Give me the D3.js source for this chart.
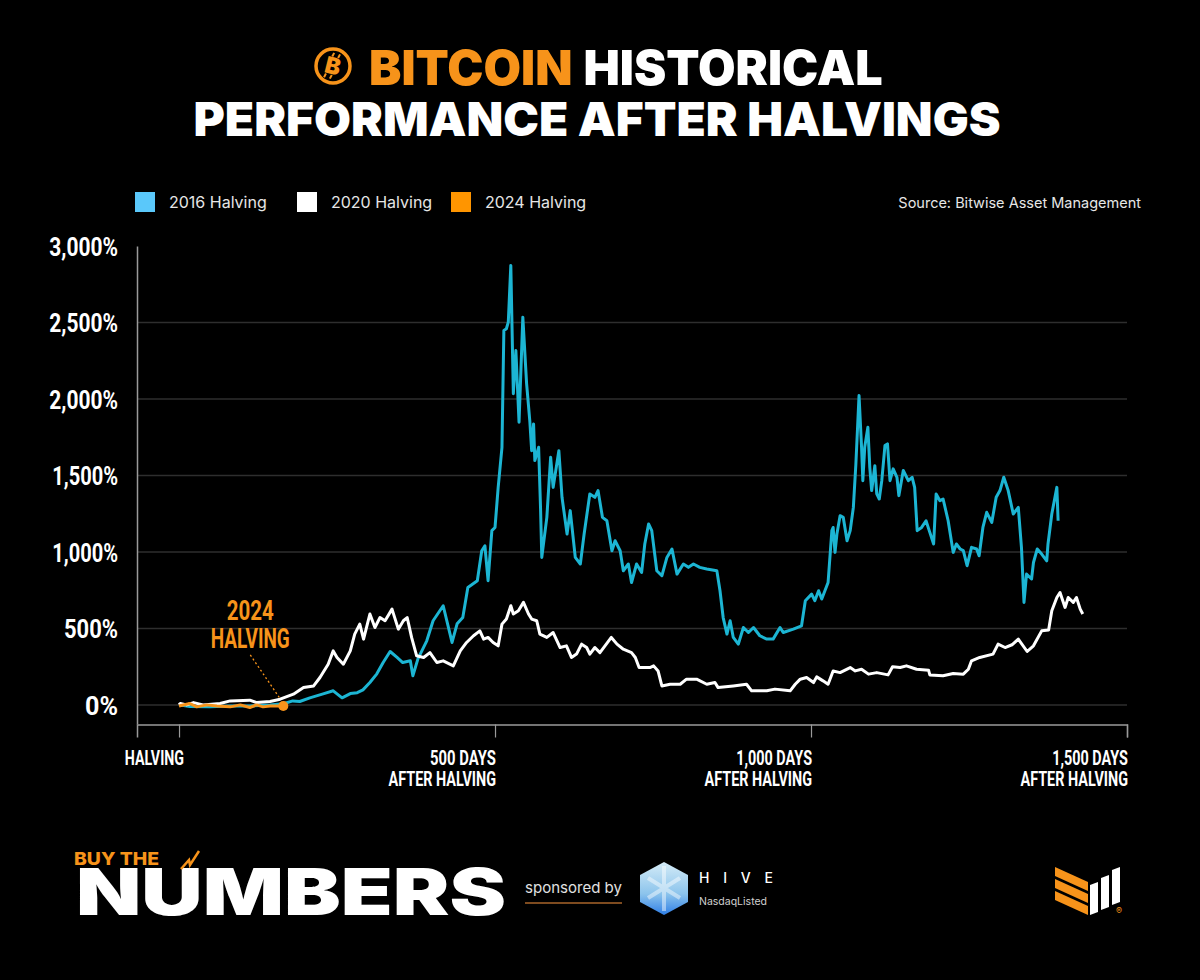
<!DOCTYPE html>
<html>
<head>
<meta charset="utf-8">
<script src="https://cdn.jsdelivr.net/npm/d3@7"></script>
<style>
  html, body { margin: 0; padding: 0; background: #000; }
  svg { display: block; }
</style>
</head>
<body>
<div id="chart"></div>
<script>
// [day after halving, % change]
const halving2016 = [[0,0],[17,-10],[49,-13],[81,-7],[112,-7],[144,0],[165,7],[180,26],[191,22],[207,46],[228,72],[244,92],[258,46],[271,74],[282,80],[291,98],[302,146],[313,203],[323,277],[334,349],[345,310],[354,277],[366,288],[370,190],[378,301],[392,419],[402,550],[418,648],[432,408],[440,530],[449,571],[457,768],[472,812],[479,1008],[484,1040],[489,812],[495,1139],[500,1160],[505,1422],[511,1684],[514,2448],[518,2459],[521,2502],[525,2873],[529,2034],[533,2317],[538,1848],[544,2535],[550,2099],[555,1859],[558,1662],[561,1837],[563,1597],[569,1684],[572,1291],[574,964],[582,1226],[588,1619],[592,1422],[601,1662],[606,1357],[614,1117],[619,1270],[627,964],[635,921],[641,1117],[650,1379],[658,1357],[663,1401],[670,1226],[677,1204],[685,1008],[690,1073],[698,1008],[703,877],[711,921],[716,800],[724,921],[732,866],[737,1052],[743,1183],[748,1139],[756,877],[764,844],[772,964],[780,1019],[788,855],[798,921],[806,899],[814,921],[824,899],[835,888],[851,877],[856,746],[861,571],[867,463],[872,550],[877,441],[885,397],[893,506],[901,473],[909,506],[919,452],[930,430],[940,430],[951,506],[956,473],[972,495],[985,517],[991,681],[1001,724],[1006,681],[1012,746],[1017,692],[1027,800],[1033,1139],[1035,1160],[1038,997],[1041,1117],[1046,1237],[1051,1226],[1057,1073],[1062,1139],[1067,1291],[1071,1575],[1076,2022],[1080,1684],[1082,1466],[1085,1684],[1090,1815],[1093,1553],[1096,1401],[1101,1564],[1104,1379],[1108,1346],[1112,1466],[1117,1695],[1121,1706],[1125,1466],[1130,1543],[1136,1488],[1139,1368],[1146,1532],[1154,1466],[1160,1488],[1164,1422],[1168,1139],[1175,1160],[1182,1204],[1188,1128],[1194,1052],[1198,1379],[1204,1335],[1209,1346],[1217,1204],[1225,997],[1230,1052],[1236,1019],[1241,1008],[1247,910],[1254,1030],[1262,1019],[1266,975],[1272,1160],[1278,1259],[1286,1193],[1293,1357],[1299,1401],[1305,1488],[1312,1401],[1320,1248],[1328,1291],[1333,1030],[1337,670],[1341,855],[1349,823],[1352,931],[1358,1019],[1365,986],[1373,942],[1375,1052],[1381,1248],[1389,1422],[1391,1204]];

const halving2020 = [[0,0],[2,9],[12,0],[23,15],[38,0],[65,9],[81,26],[112,31],[123,15],[144,22],[160,37],[181,70],[197,113],[213,124],[223,179],[236,266],[244,353],[250,310],[260,266],[271,353],[278,463],[286,528],[292,430],[302,594],[310,506],[318,571],[326,550],[337,626],[347,495],[355,550],[361,571],[368,441],[376,321],[387,310],[397,342],[408,277],[418,288],[434,255],[445,353],[455,408],[466,452],[476,484],[482,430],[489,441],[497,408],[505,386],[511,528],[518,561],[525,648],[529,594],[537,615],[545,670],[553,594],[558,561],[566,550],[571,463],[582,441],[592,473],[603,375],[613,386],[621,310],[629,332],[637,397],[645,375],[650,332],[658,375],[666,342],[674,386],[684,441],[693,397],[703,364],[716,342],[722,310],[728,244],[745,244],[751,255],[758,222],[764,124],[777,135],[793,135],[803,168],[819,168],[835,135],[848,146],[853,113],[877,124],[898,135],[906,92],[930,92],[943,103],[967,92],[975,135],[983,168],[993,179],[1004,146],[1009,183],[1019,157],[1027,135],[1035,222],[1046,211],[1062,244],[1070,222],[1080,233],[1091,201],[1104,211],[1122,196],[1129,249],[1141,244],[1151,255],[1167,233],[1186,227],[1188,196],[1209,190],[1225,205],[1241,201],[1249,233],[1254,288],[1267,310],[1288,332],[1296,397],[1307,375],[1318,393],[1328,430],[1342,349],[1352,386],[1365,484],[1376,489],[1381,615],[1389,702],[1394,735],[1402,637],[1407,702],[1415,670],[1420,702],[1426,626],[1430,594]];

const halving2024 = [[0,-7],[17,9],[28,-13],[44,0],[60,-7],[81,-13],[97,0],[112,-17],[123,0],[133,-13],[144,-7],[160,-7],[165,-7]];

const yTicks = [0, 500, 1000, 1500, 2000, 2500, 3000];
const xTicks = [0, 500, 1000, 1500];
const xTickLabels = [['HALVING'], ['500 DAYS', 'AFTER HALVING'], ['1,000 DAYS', 'AFTER HALVING'], ['1,500 DAYS', 'AFTER HALVING']];
const seriesNames = ['2016 Halving', '2020 Halving', '2024 Halving'];
const legendColors = ['#5ac8fa', '#ffffff', '#ff9500'];
const lineColors = ['#1cb5d3', '#ffffff', '#f7931a'];

const width = 1200, height = 980;
const orange = '#f7931a';
const narrow = "Roboto, 'Liberation Sans', sans-serif";
const heavy = "Inter, 'Open Sans', sans-serif";

// rough width of a tall condensed (Bebas-like) face, used to squeeze Roboto
function condensedWidth(s, size) {
    let w = 0;
    for (const c of s) {
        if (c === ' ') w += 0.2;
        else if (c === ',') w += 0.17;
        else if (c === '%') w += 0.9;
        else if (c === 'I' || c === '1') w += 0.3;
        else w += 0.42;
    }
    return w * size;
}

function narrowText(sel, s, size) {
    return sel.append('text')
        .attr('font-family', narrow)
        .attr('font-weight', 700)
        .attr('font-size', size)
        .attr('textLength', condensedWidth(s, size))
        .attr('lengthAdjust', 'spacingAndGlyphs')
        .text(s);
}

const svg = d3.select('#chart')
    .append('svg')
    .attr('width', width)
    .attr('height', height);

svg.append('rect').attr('width', width).attr('height', height).attr('fill', '#000');

// title
const icon = svg.append('g').attr('transform', 'translate(333,66)');
icon.append('circle').attr('r', 17).attr('fill', 'none').attr('stroke', orange).attr('stroke-width', 3.5);
icon.append('text')
    .attr('text-anchor', 'middle')
    .attr('y', 8)
    .attr('transform', 'rotate(14)')
    .attr('font-family', heavy)
    .attr('font-weight', 900)
    .attr('font-size', 23)
    .attr('fill', orange)
    .text('B');
[-4, 2].forEach(dx => {
    icon.append('line').attr('x1', dx + 2).attr('x2', dx + 1).attr('y1', -13).attr('y2', -9)
        .attr('stroke', orange).attr('stroke-width', 2).attr('transform', 'rotate(14)');
    icon.append('line').attr('x1', dx - 1).attr('x2', dx - 2).attr('y1', 9).attr('y2', 13)
        .attr('stroke', orange).attr('stroke-width', 2).attr('transform', 'rotate(14)');
});

const t1 = svg.append('text')
    .attr('x', 369).attr('y', 85)
    .attr('font-family', heavy).attr('font-weight', 900).attr('font-size', 48.5);
t1.append('tspan').attr('fill', orange).text('BITCOIN');
t1.append('tspan').attr('fill', '#fff').attr('dx', 11).text('HISTORICAL');

svg.append('text')
    .attr('x', 597).attr('y', 136)
    .attr('text-anchor', 'middle')
    .attr('font-family', heavy).attr('font-weight', 900).attr('font-size', 47)
    .attr('fill', '#fff')
    .attr('textLength', 807).attr('lengthAdjust', 'spacingAndGlyphs')
    .text('PERFORMANCE AFTER HALVINGS');

// legend
const legendX = [135, 297, 451];
seriesNames.forEach((name, i) => {
    svg.append('rect')
        .attr('x', legendX[i]).attr('y', 192)
        .attr('width', 20).attr('height', 20)
        .attr('fill', legendColors[i]);
    svg.append('text')
        .attr('x', legendX[i] + 34).attr('y', 208)
        .attr('font-family', heavy).attr('font-size', 16)
        .attr('fill', '#e6e6e6')
        .text(name);
});
svg.append('text')
    .attr('x', 1141).attr('y', 208)
    .attr('text-anchor', 'end')
    .attr('font-family', heavy).attr('font-size', 14.5)
    .attr('fill', '#e6e6e6')
    .text('Source: Bitwise Asset Management');

// chart
const margin = { top: 246, right: 73, bottom: 256, left: 137 };

let x = d3.scaleLinear()
    .domain([-66.5, 1500])
    .range([margin.left, width - margin.right]);

let y = d3.scaleLinear()
    .domain([-125, 3000])
    .range([height - margin.bottom, margin.top]);

// grid
svg.append('g')
    .selectAll('line')
    .data(yTicks.filter(d => d < 3000))
    .enter()
    .append('line')
    .attr('x1', x(-66.5)).attr('x2', x(1500))
    .attr('y1', d => y(d)).attr('y2', d => y(d))
    .attr('stroke', '#2e2e2e')
    .attr('stroke-width', 1.5);

let yAxis = (g) => g
    .attr('transform', `translate(${margin.left},0)`)
    .call(d3.axisLeft(y).tickValues(yTicks).tickSize(0).tickFormat(''))
    .call(g => g.select('.domain').attr('stroke', '#9a9a9a').attr('stroke-width', 1.5));

let xAxis = (g) => g
    .attr('transform', `translate(0,${height - margin.bottom + 0.5})`)
    .call(d3.axisBottom(x).tickValues(xTicks).tickSize(13).tickFormat(''))
    .call(g => g.select('.domain').attr('stroke', '#9a9a9a').attr('stroke-width', 1.5))
    .call(g => g.selectAll('.tick line').attr('stroke', '#9a9a9a').attr('stroke-width', 1.2));

svg.append('g').call(yAxis);
svg.append('g').call(xAxis);

// y tick labels
yTicks.forEach(d => {
    narrowText(svg, d3.format(',')(d) + '%', 25)
        .attr('x', margin.left - 19)
        .attr('y', y(d) + 10)
        .attr('text-anchor', 'end')
        .attr('fill', '#fff');
});

// x tick labels (two lines, right aligned)
xTicks.forEach((d, i) => {
    xTickLabels[i].forEach((s, j) => {
        narrowText(svg, s, 21)
            .attr('x', x(d) + (i === 0 ? 5 : 1))
            .attr('y', 765 + j * 21)
            .attr('text-anchor', 'end')
            .attr('fill', '#fff');
    });
});

// lines
const line = d3.line()
    .x(d => x(d[0]))
    .y(d => y(d[1]))
    .curve(d3.curveLinear);

[halving2016, halving2020, halving2024].forEach((data, i) => {
    svg.append('path')
        .datum(data)
        .attr('fill', 'none')
        .attr('stroke', lineColors[i])
        .attr('stroke-width', 3)
        .attr('stroke-linejoin', 'round')
        .attr('d', line);
});

// 2024 marker + annotation
const last = halving2024[halving2024.length - 1];
const px = x(last[0]), py = y(last[1]);
svg.append('circle')
    .attr('cx', px).attr('cy', py).attr('r', 5)
    .attr('fill', orange);
svg.append('line')
    .attr('x1', px - 33).attr('y1', py - 51)
    .attr('x2', px - 3).attr('y2', py - 7)
    .attr('stroke', orange)
    .attr('stroke-width', 1.3)
    .attr('stroke-dasharray', '2,2.5');
narrowText(svg, '2024', 28)
    .attr('x', px - 33).attr('y', py - 86)
    .attr('text-anchor', 'middle')
    .attr('fill', orange);
narrowText(svg, 'HALVING', 28)
    .attr('x', px - 33).attr('y', py - 58)
    .attr('text-anchor', 'middle')
    .attr('fill', orange);

// footer: BUY THE NUMBERS
svg.append('text')
    .attr('x', 74).attr('y', 865)
    .attr('font-family', heavy).attr('font-weight', 800).attr('font-size', 18)
    .attr('fill', orange)
    .attr('textLength', 85).attr('lengthAdjust', 'spacingAndGlyphs')
    .text('BUY THE');
svg.append('text')
    .attr('x', 76).attr('y', 915)
    .attr('font-family', heavy).attr('font-weight', 900).attr('font-size', 65)
    .attr('fill', '#fff')
    .attr('textLength', 430).attr('lengthAdjust', 'spacingAndGlyphs')
    .text('NUMBERS');
svg.append('path')
    .attr('d', 'M181,869 L189,860 L190,865 L199,851')
    .attr('fill', 'none')
    .attr('stroke', orange)
    .attr('stroke-width', 2.5);

svg.append('text')
    .attr('x', 525).attr('y', 893)
    .attr('font-family', heavy).attr('font-size', 15)
    .attr('fill', '#e0e0e0')
    .attr('textLength', 97).attr('lengthAdjust', 'spacingAndGlyphs')
    .text('sponsored by');
svg.append('line')
    .attr('x1', 525).attr('x2', 622).attr('y1', 903).attr('y2', 903)
    .attr('stroke', '#a8652a').attr('stroke-width', 1.5);

// HIVE logo
const defs = svg.append('defs');
const grad = defs.append('linearGradient').attr('id', 'hiveGrad')
    .attr('x1', 0).attr('y1', 0).attr('x2', 0).attr('y2', 1);
grad.append('stop').attr('offset', '0%').attr('stop-color', '#d5ecf7');
grad.append('stop').attr('offset', '60%').attr('stop-color', '#8cc4ec');
grad.append('stop').attr('offset', '100%').attr('stop-color', '#2f7fe6');
svg.append('polygon')
    .attr('points', '664,862 688,875 688,902 664,915 640,902 640,875')
    .attr('fill', 'url(#hiveGrad)');
svg.append('path')
    .attr('d', 'M648,878 L680,898 M680,878 L648,898 M664,866 L664,911')
    .attr('stroke', '#ffffff').attr('stroke-opacity', 0.45).attr('stroke-width', 4);
svg.append('text')
    .attr('x', 699).attr('y', 883)
    .attr('font-family', heavy).attr('font-weight', 500).attr('font-size', 14)
    .attr('fill', '#fff')
    .attr('textLength', 74).attr('lengthAdjust', 'spacing')
    .text('HIVE');
svg.append('text')
    .attr('x', 699).attr('y', 905)
    .attr('font-family', heavy).attr('font-size', 10.5)
    .attr('fill', '#d0d0d0')
    .text('NasdaqListed');

// Bitwise-style mark
[0, 12, 24].forEach(o => {
    svg.append('polygon')
        .attr('points', `1055,${867 + o} 1088,${882 + o} 1088,${891 + o} 1055,${876 + o}`)
        .attr('fill', orange);
});
[[1090, 882, 915], [1101, 875, 910], [1112, 867, 905]].forEach(b => {
    svg.append('polygon')
        .attr('points', `${b[0]},${b[1] + 3} ${b[0] + 8},${b[1]} ${b[0] + 8},${b[2] - 3} ${b[0]},${b[2]}`)
        .attr('fill', '#fff');
});
svg.append('text')
    .attr('x', 1119).attr('y', 914)
    .attr('text-anchor', 'middle')
    .attr('font-family', heavy).attr('font-size', 9)
    .attr('fill', orange)
    .text('®');
</script>
</body>
</html>
